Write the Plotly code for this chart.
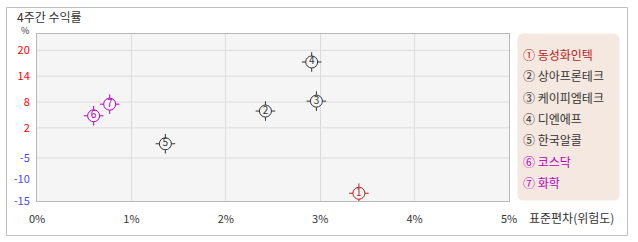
import plotly.graph_objects as go

# ---- data ----
names = ["동성화인텍", "상아프론테크", "케이피엠테크", "디엔에프", "한국알콜", "코스닥", "화학"]
marks = ["①", "②", "③", "④", "⑤", "⑥", "⑦"]
digits = ["1", "2", "3", "4", "5", "6", "7"]
risk = [3.41, 2.42, 2.96, 2.91, 1.36, 0.60, 0.77]      # 표준편차 (%)
ret = [-13.2, 5.9, 8.2, 17.3, -1.7, 4.8, 7.5]          # 4주간 수익률 (%)
colors = ["#b81c1c", "#333333", "#333333", "#333333", "#333333", "#b400c0", "#b400c0"]

x_ticks = [0, 1, 2, 3, 4, 5]
x_labels = ["0%", "1%", "2%", "3%", "4%", "5%"]
y_ticks = [20, 14, 8, 2, -5, -10, -15]
y_grid = [20, 14, 8, 2, -5]

FONT = "Noto Sans CJK KR"
W, H = 638, 242
L, R, T, B = 37, 129, 34, 41
PW, PH = W - L - R, H - T - B


def px(x):
    return (x - L) / PW


def py(y):
    return (H - B - y) / PH


fig = go.Figure()

# marker layers: crosshair ticks, filled circle, digit
fig.add_trace(go.Scatter(
    x=risk, y=ret, mode="markers", hoverinfo="skip",
    marker=dict(symbol="cross-thin-open", size=14, color=colors, line=dict(color=colors, width=1)),
))
fig.add_trace(go.Scatter(
    x=risk, y=ret, mode="markers", hoverinfo="skip",
    marker=dict(symbol="circle", size=12, color="#f5f5f5", line=dict(color=colors, width=1)),
))
fig.add_trace(go.Scatter(
    x=risk, y=ret, mode="text", text=digits, textposition="middle center",
    textfont=dict(family=FONT, size=10, color=colors), hoverinfo="skip",
))

def ycol(v):
    c = "#ff0000" if v >= 0 else "#4b4bff"
    return f"<span style='color:{c}'>{v}</span>"

fig.update_layout(
    width=W, height=H,
    margin=dict(l=L, r=R, t=T, b=B),
    paper_bgcolor="white", plot_bgcolor="#f5f5f5",
    showlegend=False,
    font=dict(family=FONT, size=11, color="#333333"),
    xaxis=dict(range=[0, 5], tickmode="array", tickvals=x_ticks, ticktext=x_labels,
               showgrid=True, gridcolor="#dcdcdc", gridwidth=1, zeroline=False,
               showline=True, linecolor="#b8b8b8", linewidth=1, mirror=True,
               ticks="", ticklabelstandoff=8, tickfont=dict(size=11, color="#333333")),
    yaxis=dict(range=[-15, 23.8], tickmode="array", tickvals=y_ticks,
               ticktext=[ycol(v) for v in y_ticks],
               showgrid=False, zeroline=False,
               showline=True, linecolor="#b8b8b8", linewidth=1, mirror=True,
               ticks="", ticklabelstandoff=4, tickfont=dict(size=11)),
)

shapes = []
for v in y_grid:
    shapes.append(dict(type="line", xref="paper", yref="y", x0=0, x1=1, y0=v, y1=v,
                       line=dict(color="#dcdcdc", width=1), layer="below"))
# outer border
shapes.append(dict(type="rect", xref="paper", yref="paper",
                   x0=px(6.5), x1=px(627.5), y0=py(235.5), y1=py(7.5),
                   line=dict(color="#c0c0c0", width=1), fillcolor="rgba(0,0,0,0)", layer="below"))
# legend rounded box
x0, x1, y0, y1, r = 517.5, 619.5, 33.5, 200.5, 6
path = (f"M {px(x0 + r)} {py(y0)} L {px(x1 - r)} {py(y0)} "
        f"Q {px(x1)} {py(y0)} {px(x1)} {py(y0 + r)} L {px(x1)} {py(y1 - r)} "
        f"Q {px(x1)} {py(y1)} {px(x1 - r)} {py(y1)} L {px(x0 + r)} {py(y1)} "
        f"Q {px(x0)} {py(y1)} {px(x0)} {py(y1 - r)} L {px(x0)} {py(y0 + r)} "
        f"Q {px(x0)} {py(y0)} {px(x0 + r)} {py(y0)} Z")
shapes.append(dict(type="path", xref="paper", yref="paper", path=path,
                   fillcolor="#f5e8e0", line=dict(width=0), layer="below"))
fig.update_layout(shapes=shapes)

ann = []
ann.append(dict(x=px(15), y=py(17), xref="paper", yref="paper", text="4주간 수익률",
                showarrow=False, xanchor="left", yanchor="middle",
                font=dict(size=12, color="#333333")))
ann.append(dict(x=px(25), y=py(30.5), xref="paper", yref="paper", text="%",
                showarrow=False, xanchor="center", yanchor="middle",
                font=dict(size=9, color="#333333")))
ann.append(dict(x=px(527), y=py(217), xref="paper", yref="paper", text="표준편차(위험도)",
                showarrow=False, xanchor="left", yanchor="middle",
                font=dict(size=12, color="#333333")))
for i, (m, n, c) in enumerate(zip(marks, names, colors)):
    ann.append(dict(x=px(521), y=py(54.5 + i * 21.3), xref="paper", yref="paper",
                    text=f"{m} {n}", showarrow=False, xanchor="left", yanchor="middle",
                    font=dict(size=12, color=c)))
fig.update_layout(annotations=ann)

fig.write_html("out.html")
